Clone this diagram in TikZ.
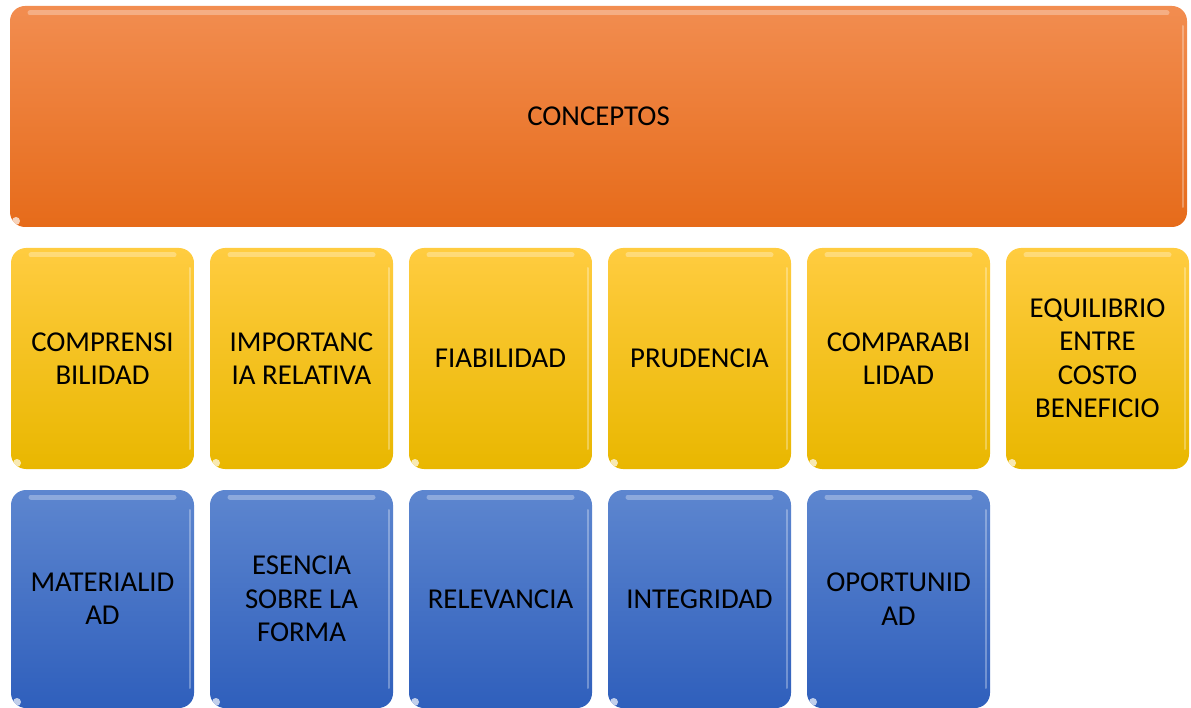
\documentclass[tikz,border=0pt]{standalone}
\usepackage{fontspec}
\setmainfont{Carlito}
\definecolor{orTop}{HTML}{F28D50}
\definecolor{orBot}{HTML}{E66B1A}
\definecolor{yeTop}{HTML}{FFCC40}
\definecolor{yeBot}{HTML}{E9B700}
\definecolor{blTop}{HTML}{5D86CF}
\definecolor{blBot}{HTML}{2F5FBC}
\tikzset{
  box/.style={rectangle, rounded corners=15pt, inner sep=0pt, align=center,
    font=\fontsize{28.8}{33.5}\selectfont, text=black,
    path picture={
      \draw[white, opacity=0.3, line width=5pt, line cap=round]
        ([xshift=20pt,yshift=-7pt]path picture bounding box.north west) --
        ([xshift=-20pt,yshift=-7pt]path picture bounding box.north east);
      \draw[white, opacity=0.3, line width=2pt, line cap=round]
        ([xshift=-4pt,yshift=-20pt]path picture bounding box.north east) --
        ([xshift=-4pt,yshift=20pt]path picture bounding box.south east);
      \fill[white, opacity=0.7]
        ([xshift=6pt,yshift=6pt]path picture bounding box.south west) circle (4pt);
    }},
  topbox/.style={box, top color=orTop, bottom color=orBot,
    minimum width=1177pt, minimum height=221pt},
  ybox/.style={box, top color=yeTop, bottom color=yeBot,
    minimum width=183pt, minimum height=221pt},
  bbox/.style={box, top color=blTop, bottom color=blBot,
    minimum width=183pt, minimum height=218pt}
}
\begin{document}
\begin{tikzpicture}[x=1pt,y=-1pt]
\useasboundingbox (0,0) rectangle (1191,708);
\node[topbox] (conc) at (598.5,116.5) {CONCEPTOS};
\node[ybox] (y1) at (102.5,358.5) {COMPRENSI\\BILIDAD};
\node[ybox] (y2) at (301.5,358.5) {IMPORTANC\\IA RELATIVA};
\node[ybox] (y3) at (500.5,358.5) {FIABILIDAD};
\node[ybox] (y4) at (699.5,358.5) {PRUDENCIA};
\node[ybox] (y5) at (898.5,358.5) {COMPARABI\\LIDAD};
\node[ybox] (y6) at (1097.5,358.5) {EQUILIBRIO\\ENTRE\\COSTO\\BENEFICIO};
\node[bbox] (b1) at (102.5,599) {MATERIALID\\AD};
\node[bbox] (b2) at (301.5,599) {ESENCIA\\SOBRE LA\\FORMA};
\node[bbox] (b3) at (500.5,599) {RELEVANCIA};
\node[bbox] (b4) at (699.5,599) {INTEGRIDAD};
\node[bbox] (b5) at (898.5,599) {OPORTUNID\\AD};
\end{tikzpicture}
\end{document}
